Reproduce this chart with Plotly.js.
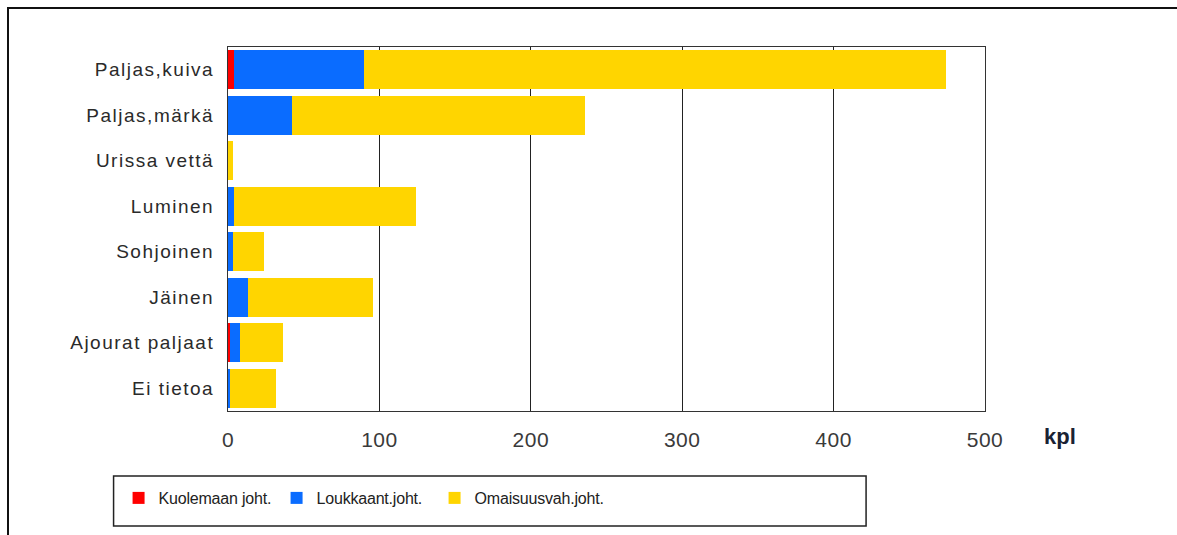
<!DOCTYPE html>
<html>
<head>
<meta charset="utf-8">
<script src="https://cdn.plot.ly/plotly-3.0.1.min.js"></script>
<style>
  html, body { margin: 0; padding: 0; background: #ffffff; }
  #wrap { position: relative; width: 1177px; height: 535px; overflow: hidden; }
  #frame { position: absolute; left: 7px; top: 7px; width: 1200px; height: 600px;
           border-top: 2px solid #111; border-left: 2px solid #111; pointer-events: none; z-index: 5; }
  #chart { position: absolute; left: 0; top: 0; width: 1177px; height: 535px; }
  #chart .ytick text { letter-spacing: 1.5px; }
  #chart .xtick text { letter-spacing: 0.5px; }
  #chart .legendtext { letter-spacing: -0.2px; }
  #chart .legend .scrollbox { clip-path: none !important; }
</style>
</head>
<body>
<div id="wrap">
  <div id="chart"></div>
  <div id="frame"></div>
</div>
<script>
// Data
const categories = ["Paljas,kuiva", "Paljas,märkä", "Urissa vettä", "Luminen", "Sohjoinen", "Jäinen", "Ajourat paljaat", "Ei tietoa"];
const kuolemaan = [4, 0, 0, 0, 0, 0, 1, 0];
const loukkaant = [86, 42, 0, 4, 3, 13, 7, 1];
const omaisuus  = [384, 194, 3, 120, 21, 83, 28, 31];
const seriesNames = ["Kuolemaan joht.", "Loukkaant.joht.", "Omaisuusvah.joht."];
const tickValues = [0, 100, 200, 300, 400, 500];
const tickLabels = ["0", "100", "200", "300", "400", "500"];
const unitLabel = "kpl";

const colors = ["#ff0000", "#0a6cff", "#ffd500"];
const seriesData = [kuolemaan, loukkaant, omaisuus];

const traces = seriesData.map((vals, i) => ({
  type: "bar",
  orientation: "h",
  name: seriesNames[i],
  y: categories,
  x: vals,
  marker: { color: colors[i], line: { width: 0 } },
  hoverinfo: "x+y+name"
}));

const plotL = 227.5, plotR = 985, plotT = 47, plotB = 411;
const W = 1177, H = 535;
const pw = plotR - plotL, ph = plotB - plotT;
function px2x(p) { return (p - plotL) / pw; }
function py2y(p) { return (plotB - p) / ph; }

const layout = {
  width: W, height: H,
  margin: { l: plotL, r: W - plotR, t: plotT, b: H - plotB, pad: 0 },
  paper_bgcolor: "#ffffff",
  plot_bgcolor: "#ffffff",
  barmode: "stack",
  bargap: 0.15,
  font: { family: "Liberation Sans, Arial, sans-serif", size: 15, color: "#333333" },
  xaxis: {
    range: [0, 500],
    tickvals: tickValues,
    ticktext: tickLabels,
    showgrid: true,
    gridcolor: "#222222",
    gridwidth: 1,
    zeroline: false,
    showline: true,
    linecolor: "#333333",
    linewidth: 1,
    mirror: true,
    ticks: "",
    ticklabelstandoff: 10,
    tickfont: { size: 21, color: "#3a3a3a" },
    fixedrange: true
  },
  yaxis: {
    type: "category",
    categoryorder: "array",
    categoryarray: categories,
    autorange: "reversed",
    showgrid: false,
    zeroline: false,
    showline: true,
    linecolor: "#333333",
    linewidth: 1,
    mirror: true,
    ticks: "",
    ticklabelstandoff: 9,
    tickfont: { size: 19, color: "#2a2a2a" },
    fixedrange: true
  },
  showlegend: true,
  legend: {
    orientation: "h",
    x: px2x(118),
    xanchor: "left",
    y: py2y(481),
    yanchor: "top",
    entrywidth: 113,
    entrywidthmode: "pixels",
    traceorder: "normal",
    bgcolor: "rgba(0,0,0,0)",
    borderwidth: 0,
    font: { size: 16, color: "#222222" }
  },
  shapes: [
    {
      type: "rect", xref: "paper", yref: "paper",
      x0: px2x(113), x1: px2x(866), y0: py2y(476), y1: py2y(526),
      line: { color: "#222222", width: 1.5 }, fillcolor: "rgba(0,0,0,0)", layer: "above"
    }
  ],
  annotations: [
    {
      text: "<b>" + unitLabel + "</b>", xref: "paper", yref: "paper",
      x: px2x(1060), y: py2y(436), xanchor: "center", yanchor: "middle",
      showarrow: false, font: { size: 22, color: "#1a2233" }
    }
  ]
};

Plotly.newPlot("chart", traces, layout, { displayModeBar: false, staticPlot: true });
</script>
</body>
</html>
